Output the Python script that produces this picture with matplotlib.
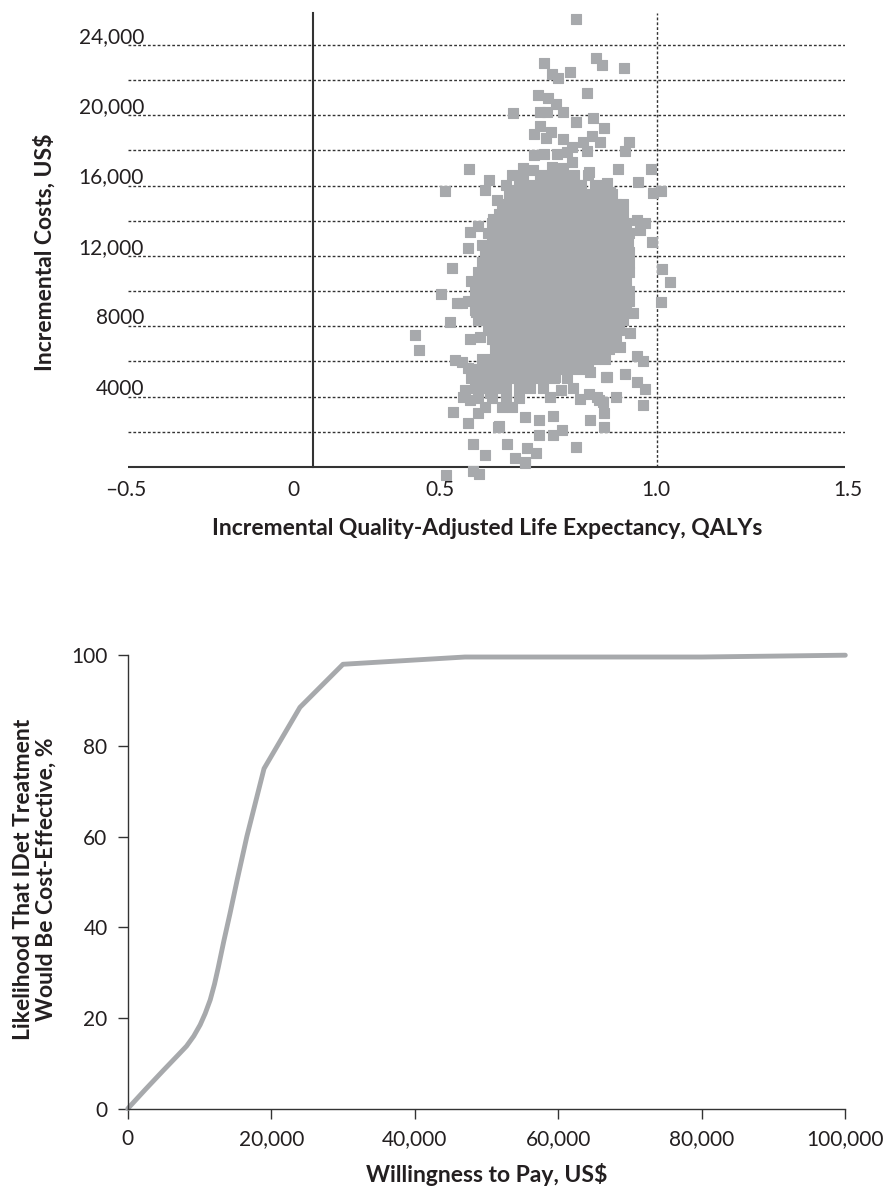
import matplotlib.pyplot as plt

plt.rcParams['font.family'] = ['Lato', 'DejaVu Sans']

# ---- top panel: cost-effectiveness plane ----
# scattered draws read one by one (incremental QALYs, incremental cost US$)
sparse_qaly = [0.765, 0.672, 0.695, 0.712, 0.747, 0.823, 0.840, 0.904, 0.797, 0.654,
               0.683, 0.706, 0.581, 0.660, 0.680, 0.727, 0.814, 0.765, 0.846, 0.660,
               0.642, 0.692, 0.677, 0.727, 0.811, 0.785, 0.834, 0.919, 0.907, 0.753,
               0.797, 0.642, 0.672, 0.709, 0.738, 0.753, 0.453, 0.887, 0.983, 0.610,
               0.640, 0.695, 0.727, 0.578, 0.512, 0.945, 0.802, 0.738, 0.770, 0.855,
               0.384, 0.500, 0.535, 0.578, 0.988, 1.012, 0.581, 0.616, 0.863, 0.814,
               0.892, 0.942, 0.965, 0.951, 0.480, 0.456, 0.523, 0.535, 0.552, 0.451,
               0.491, 0.985, 0.404, 1.015, 1.038, 0.372, 0.919, 0.916, 1.012, 0.398,
               0.297, 0.308, 0.407, 0.451, 0.465, 0.500, 0.387, 0.465, 0.483, 0.564,
               0.587, 0.616, 0.622, 0.648, 0.765, 0.541, 0.657, 0.698, 0.724, 0.698,
               0.616, 0.657, 0.805, 0.846, 0.846, 0.959, 0.965, 0.942, 0.881, 0.907,
               0.852, 0.942, 0.959, 0.776, 0.802, 0.756, 0.721, 0.689, 0.831, 0.419,
               0.433, 0.474, 0.456, 0.485, 0.413, 0.433, 0.451, 0.485, 0.515, 0.558,
               0.622, 0.703, 0.805, 0.855, 0.442, 0.477, 0.436, 0.456, 0.515, 0.480,
               0.538, 0.826, 0.843, 0.616, 0.930, 0.922, 0.892]
sparse_cost = [25500, 22980, 22350, 22120, 22460, 23260, 22860, 22690, 21270, 21155,
               20985, 20645, 20130, 20190, 20190, 20190, 19850, 19620, 19280, 19390,
               18940, 19050, 18710, 18650, 18820, 18480, 18480, 18480, 17970, 18200,
               17970, 17740, 17800, 17800, 17910, 17345, 16950, 16950, 16950, 17000,
               16890, 17060, 17000, 16600, 16320, 16210, 16780, 16435, 16040, 16150,
               15700, 15750, 15180, 15070, 15580, 15700, 15750, 15640, 15640, 15180,
               14615, 14050, 13875, 13480, 13705, 13365, 14100, 13365, 13365, 12455,
               12625, 12795, 11315, 11260, 10520, 9840, 11600, 12795, 9380, 8245,
               7505, 6655, 3130, 2500, 1310, 680, -455, -230, -400, 1310,
               510, 285, 1080, 795, 1140, 2330, 1820, 1820, 2105, 2900,
               2845, 2675, 2675, 2275, 3070, 3525, 4435, 4835, 3980, 5290,
               5120, 6310, 6030, 3870, 4150, 4490, 4380, 3980, 3810, 9325,
               9325, 8815, 7280, 7390, 6085, 5970, 5630, 5515, 5230, 5290,
               5515, 5120, 5400, 5120, 4380, 4550, 3980, 3810, 4210, 3070,
               2275, 3980, 3700, 230, 8760, 7620, 6825]

# dense middle of the cloud, read row by row
core_cost = [16600, 16050, 15500, 14950, 14400, 13850, 13300, 12750, 12200, 11650,
             11100, 10550, 10000, 9450, 8900, 8350, 7800, 7250, 6700, 6150,
             5600, 5050, 4500, 3950, 3400]
core_qaly = [
    [0.61, 0.66, 0.69, 0.72, 0.76, 0.80],
    [0.56, 0.60, 0.63, 0.66, 0.69, 0.72, 0.75, 0.78, 0.82, 0.85],
    [0.57, 0.60, 0.63, 0.66, 0.69, 0.72, 0.75, 0.78, 0.81, 0.84, 0.87],
    [0.55, 0.58, 0.61, 0.64, 0.67, 0.70, 0.73, 0.76, 0.79, 0.82, 0.85, 0.88, 0.90],
    [0.54, 0.57, 0.60, 0.63, 0.66, 0.69, 0.72, 0.75, 0.78, 0.81, 0.84, 0.87, 0.90],
    [0.52, 0.55, 0.58, 0.61, 0.64, 0.67, 0.70, 0.73, 0.76, 0.79, 0.82, 0.85, 0.88, 0.91],
    [0.51, 0.54, 0.57, 0.60, 0.63, 0.66, 0.69, 0.72, 0.75, 0.78, 0.81, 0.84, 0.87, 0.90, 0.92],
    [0.52, 0.55, 0.58, 0.61, 0.64, 0.67, 0.70, 0.73, 0.76, 0.79, 0.82, 0.85, 0.88, 0.91],
    [0.50, 0.53, 0.56, 0.59, 0.62, 0.65, 0.68, 0.71, 0.74, 0.77, 0.80, 0.83, 0.86, 0.89, 0.92],
    [0.49, 0.52, 0.55, 0.58, 0.61, 0.64, 0.67, 0.70, 0.73, 0.76, 0.79, 0.82, 0.85, 0.88, 0.91],
    [0.48, 0.51, 0.54, 0.57, 0.60, 0.63, 0.66, 0.69, 0.72, 0.75, 0.78, 0.81, 0.84, 0.87, 0.90, 0.92],
    [0.46, 0.49, 0.52, 0.55, 0.58, 0.61, 0.64, 0.67, 0.70, 0.73, 0.76, 0.79, 0.82, 0.85, 0.88, 0.91],
    [0.47, 0.50, 0.53, 0.56, 0.59, 0.62, 0.65, 0.68, 0.71, 0.74, 0.77, 0.80, 0.83, 0.86, 0.89, 0.92],
    [0.45, 0.48, 0.51, 0.54, 0.57, 0.60, 0.63, 0.66, 0.69, 0.72, 0.75, 0.78, 0.81, 0.84, 0.87, 0.90, 0.92],
    [0.47, 0.50, 0.53, 0.56, 0.59, 0.62, 0.65, 0.68, 0.71, 0.74, 0.77, 0.80, 0.83, 0.86, 0.89, 0.91],
    [0.48, 0.51, 0.54, 0.57, 0.60, 0.63, 0.66, 0.69, 0.72, 0.75, 0.78, 0.81, 0.84, 0.87, 0.90],
    [0.51, 0.54, 0.57, 0.60, 0.63, 0.66, 0.69, 0.72, 0.75, 0.78, 0.81, 0.84, 0.87, 0.89],
    [0.52, 0.55, 0.58, 0.61, 0.64, 0.67, 0.70, 0.73, 0.76, 0.79, 0.82, 0.85, 0.88],
    [0.53, 0.56, 0.59, 0.62, 0.65, 0.68, 0.71, 0.74, 0.77, 0.80, 0.83, 0.86],
    [0.49, 0.52, 0.55, 0.58, 0.61, 0.64, 0.67, 0.70, 0.73, 0.76, 0.79, 0.82, 0.85],
    [0.47, 0.50, 0.53, 0.56, 0.59, 0.62, 0.65, 0.68, 0.71, 0.74, 0.77, 0.80],
    [0.46, 0.49, 0.52, 0.55, 0.58, 0.61, 0.64, 0.67, 0.70, 0.74],
    [0.47, 0.50, 0.53, 0.56, 0.60, 0.63, 0.67],
    [0.48, 0.52, 0.56, 0.60],
    [0.50, 0.55, 0.58],
]

grid_costs = [2000, 4000, 6000, 8000, 10000, 12000, 14000, 16000, 18000, 20000, 22000, 24000]
cost_ticks = [4000, 8000, 12000, 16000, 20000, 24000]
cost_tick_labels = ['4000', '8000', '12,000', '16,000', '20,000', '24,000']
# the printed qaly labels sit slightly off their true values in the original
qaly_tick_pos = [-0.544, -0.058, 0.369, 0.997, 1.555]
qaly_tick_labels = ['\u20130.5', '0', '0.5', '1.0', '1.5']

# ---- bottom panel: acceptability curve ----
wtp = [0, 2500, 5000, 7000, 8200, 9200, 10100, 10800, 11500, 12100, 12600,
       13400, 14250, 15250, 16600, 19000, 24000, 30000, 47000, 80000, 100000]
prob_ce = [0, 4.3, 8.5, 11.8, 13.8, 16.0, 18.5, 21.0, 24.0, 27.5, 31.0,
           37.0, 43.0, 50.4, 60.0, 75.0, 88.5, 98.0, 99.6, 99.6, 100.0]
wtp_ticks = [0, 20000, 40000, 60000, 80000, 100000]
wtp_tick_labels = ['0', '20,000', '40,000', '60,000', '80,000', '100,000']
prob_ticks = [0, 20, 40, 60, 80, 100]

gray = '#a7a9ac'
ink = '#231f20'
line_col = '#333333'
tick_fs = 15
label_fs = 16.5

qs = list(sparse_qaly)
cs = list(sparse_cost)
for c, row in zip(core_cost, core_qaly):
    qs += row
    cs += [c] * len(row)

fig = plt.figure(figsize=(8.88, 11.89), dpi=100)

# top plot
ax1 = fig.add_axes([128 / 888, 1 - 482.8 / 1189, 717 / 888, 473 / 1189])
ax1.set_xlim(-0.538, 1.547)
ax1.set_ylim(-900, 26000)
ax1.set_axis_off()

for g in grid_costs:
    ax1.axhline(g, color=line_col, lw=1.0, ls=(0, (2, 1.5)), zorder=1)
ax1.axhline(0, color=line_col, lw=1.5, zorder=2)
ax1.plot([0, 0], [0, 25800], color=line_col, lw=1.5, zorder=2)
ax1.plot([1.0, 1.0], [0, 25800], color=line_col, lw=1.0, ls=(0, (2, 1.5)), zorder=2)

ax1.scatter(qs, cs, marker='s', s=56, color=gray, edgecolors=gray,
            linewidths=0.8, zorder=3)

for v, lab in zip(cost_ticks, cost_tick_labels):
    ax1.text(0.0223, v + 120, lab, transform=ax1.get_yaxis_transform(),
             ha='right', va='baseline', fontsize=tick_fs, color=ink)
for p, lab in zip(qaly_tick_pos, qaly_tick_labels):
    ax1.text(p, -0.0152, lab, transform=ax1.get_xaxis_transform(),
             ha='center', va='center', fontsize=tick_fs, color=ink, clip_on=False)
ax1.text(0.5007, -0.0956, 'Incremental Quality-Adjusted Life Expectancy, QALYs',
         transform=ax1.transAxes, ha='center', va='center', fontsize=label_fs,
         fontweight='bold', color=ink)
ax1.text(-0.1158, 0.488, 'Incremental Costs, US$', transform=ax1.transAxes,
         rotation=90, ha='center', va='center', fontsize=label_fs,
         fontweight='bold', color=ink)

# bottom plot
ax2 = fig.add_axes([127.7 / 888, 1 - 1108.7 / 1189, 717.6 / 888, 453.5 / 1189])
ax2.plot(wtp, prob_ce, color=gray, lw=3.5, solid_capstyle='round', clip_on=False)
ax2.set_xlim(0, 100000)
ax2.set_ylim(0, 100)
for side in ['top', 'right']:
    ax2.spines[side].set_visible(False)
for side in ['left', 'bottom']:
    ax2.spines[side].set_color(line_col)
    ax2.spines[side].set_linewidth(1.0)
ax2.set_xticks(wtp_ticks, wtp_tick_labels)
ax2.set_yticks(prob_ticks, [str(t) for t in prob_ticks])
ax2.tick_params(direction='out', length=7.5, width=1.0, color=line_col,
                pad=7, labelsize=tick_fs, labelcolor=ink)
ax2.text(0.5007, -0.146, 'Willingness to Pay, US$', transform=ax2.transAxes,
         ha='center', va='center', fontsize=label_fs, fontweight='bold', color=ink)
ax2.text(-0.13, 0.5065, 'Likelihood That IDet Treatment\nWould Be Cost-Effective, %',
         transform=ax2.transAxes, rotation=90, ha='center', va='center',
         multialignment='center', linespacing=1.1, fontsize=label_fs,
         fontweight='bold', color=ink)

fig.savefig('out.png', dpi=100)
